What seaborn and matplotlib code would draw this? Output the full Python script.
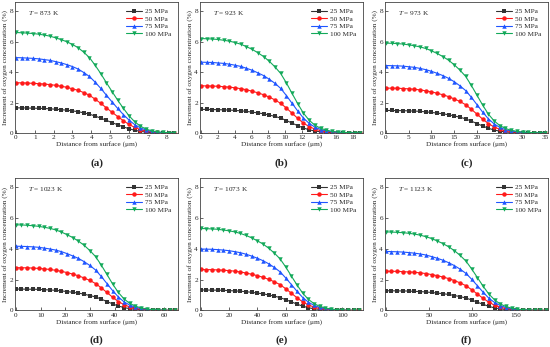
"""
Oxygen concentration increment profiles at six temperatures (four pressures each).
"""

import matplotlib.pyplot as plt
import pandas as pd
import seaborn as sns
from matplotlib.lines import Line2D

OUTPUT_FILE = "out.png"

PRESSURES = ["25 MPa", "50 MPa", "75 MPa", "100 MPa"]
COLORS = ["#333333", "#ff1a1a", "#1f55ff", "#13a95a"]
MARKERS = ["s", "o", "^", "v"]

TEMPERATURES = ["873", "923", "973", "1023", "1073", "1123"]
PANEL_LABELS = ["(a)", "(b)", "(c)", "(d)", "(e)", "(f)"]

# depth from surface (um), one grid per temperature
X_873 = [0, 0.3, 0.6, 0.9, 1.2, 1.5, 1.8, 2.1, 2.4, 2.7, 3.0, 3.3, 3.6, 3.9, 4.2,
         4.5, 4.8, 5.1, 5.4, 5.7, 6.0, 6.3, 6.6, 6.9, 7.2, 7.5, 7.8, 8.1, 8.4]
X_923 = [0, 0.68, 1.35, 2.03, 2.7, 3.38, 4.05, 4.73, 5.4, 6.08, 6.75, 7.43, 8.1, 8.78,
         9.45, 10.13, 10.8, 11.48, 12.15, 12.83, 13.5, 14.18, 14.85, 15.53, 16.2,
         16.88, 17.55, 18.23, 18.9]
X_973 = [0, 1.25, 2.5, 3.75, 5, 6.25, 7.5, 8.75, 10, 11.25, 12.5, 13.75, 15, 16.25,
         17.5, 18.75, 20, 21.25, 22.5, 23.75, 25, 26.25, 27.5, 28.75, 30, 31.25,
         32.5, 33.75, 35]
X_1023 = [0, 2.3, 4.6, 6.9, 9.2, 11.5, 13.8, 16.1, 18.4, 20.7, 23, 25.3, 27.6, 29.9,
          32.2, 34.5, 36.8, 39.1, 41.4, 43.7, 46, 48.3, 50.6, 52.9, 55.2, 57.5,
          59.8, 62.1, 64.4]
X_1073 = [0, 4, 8, 12, 16, 20, 24, 28, 32, 36, 40, 44, 48, 52, 56, 60, 64, 68, 72,
          76, 80, 84, 88, 92, 96, 100, 104, 108, 112]
X_1123 = [0, 6.6, 13.2, 19.8, 26.4, 33, 39.6, 46.2, 52.8, 59.4, 66, 72.6, 79.2, 85.8,
          92.4, 99, 105.6, 112.2, 118.8, 125.4, 132, 138.6, 145.2, 151.8, 158.4,
          165, 171.6, 178.2, 184.8]

# increment of oxygen concentration (%)
Y_873 = [
    [1.65, 1.65, 1.64, 1.63, 1.62, 1.61, 1.59, 1.56, 1.53, 1.50, 1.45, 1.40, 1.32, 1.24, 1.11,
     0.98, 0.83, 0.68, 0.54, 0.40, 0.28, 0.18, 0.11, 0.06, 0.03, 0.02, 0.01, 0.00, 0.00],
    [3.30, 3.29, 3.28, 3.26, 3.24, 3.21, 3.18, 3.13, 3.07, 3.00, 2.90, 2.80, 2.65, 2.48, 2.22,
     1.95, 1.65, 1.36, 1.08, 0.81, 0.56, 0.37, 0.22, 0.13, 0.07, 0.04, 0.02, 0.01, 0.01],
    [4.95, 4.94, 4.92, 4.90, 4.87, 4.82, 4.77, 4.69, 4.60, 4.49, 4.36, 4.20, 3.97, 3.71, 3.34,
     2.93, 2.48, 2.04, 1.61, 1.21, 0.85, 0.55, 0.34, 0.19, 0.10, 0.05, 0.03, 0.01, 0.01],
    [6.60, 6.58, 6.56, 6.53, 6.49, 6.43, 6.36, 6.25, 6.13, 5.99, 5.81, 5.60, 5.30, 4.95, 4.45,
     3.90, 3.30, 2.72, 2.15, 1.62, 1.13, 0.74, 0.45, 0.26, 0.14, 0.07, 0.04, 0.02, 0.01],
]
Y_923 = [
    [1.55, 1.55, 1.54, 1.53, 1.52, 1.51, 1.48, 1.46, 1.42, 1.37, 1.32, 1.26, 1.18, 1.09, 0.98,
     0.82, 0.65, 0.48, 0.33, 0.21, 0.13, 0.08, 0.05, 0.03, 0.02, 0.01, 0.00, 0.00, 0.00],
    [3.10, 3.09, 3.08, 3.07, 3.04, 3.01, 2.97, 2.91, 2.84, 2.74, 2.64, 2.51, 2.36, 2.17, 1.95,
     1.64, 1.30, 0.96, 0.65, 0.42, 0.26, 0.16, 0.09, 0.06, 0.03, 0.02, 0.01, 0.01, 0.00],
    [4.65, 4.64, 4.63, 4.60, 4.57, 4.52, 4.45, 4.37, 4.25, 4.12, 3.95, 3.77, 3.53, 3.26, 2.93,
     2.46, 1.95, 1.44, 0.98, 0.63, 0.39, 0.23, 0.14, 0.08, 0.05, 0.03, 0.01, 0.01, 0.00],
    [6.20, 6.19, 6.17, 6.14, 6.09, 6.03, 5.94, 5.83, 5.67, 5.49, 5.27, 5.02, 4.71, 4.34, 3.91,
     3.29, 2.60, 1.92, 1.30, 0.84, 0.51, 0.31, 0.19, 0.11, 0.06, 0.04, 0.02, 0.01, 0.01],
]
Y_973 = [
    [1.48, 1.48, 1.47, 1.47, 1.45, 1.44, 1.42, 1.39, 1.35, 1.31, 1.26, 1.20, 1.12, 1.04, 0.93,
     0.78, 0.62, 0.46, 0.31, 0.20, 0.12, 0.07, 0.04, 0.03, 0.01, 0.01, 0.00, 0.00, 0.00],
    [2.95, 2.94, 2.94, 2.92, 2.90, 2.87, 2.83, 2.77, 2.70, 2.61, 2.51, 2.39, 2.24, 2.07, 1.86,
     1.56, 1.24, 0.91, 0.62, 0.40, 0.24, 0.15, 0.09, 0.05, 0.03, 0.02, 0.01, 0.01, 0.00],
    [4.43, 4.42, 4.41, 4.39, 4.35, 4.31, 4.24, 4.16, 4.05, 3.92, 3.77, 3.59, 3.37, 3.10, 2.79,
     2.35, 1.86, 1.37, 0.93, 0.60, 0.37, 0.22, 0.13, 0.08, 0.04, 0.03, 0.01, 0.01, 0.00],
    [5.90, 5.89, 5.87, 5.84, 5.79, 5.73, 5.65, 5.55, 5.40, 5.22, 5.02, 4.78, 4.48, 4.13, 3.72,
     3.13, 2.48, 1.83, 1.24, 0.80, 0.49, 0.30, 0.18, 0.11, 0.06, 0.04, 0.02, 0.01, 0.01],
]
Y_1023 = [
    [1.39, 1.39, 1.38, 1.38, 1.37, 1.35, 1.33, 1.31, 1.27, 1.23, 1.18, 1.13, 1.06, 0.97, 0.88,
     0.74, 0.58, 0.43, 0.29, 0.19, 0.12, 0.07, 0.04, 0.03, 0.01, 0.01, 0.00, 0.00, 0.00],
    [2.78, 2.77, 2.77, 2.75, 2.73, 2.70, 2.66, 2.61, 2.54, 2.46, 2.36, 2.25, 2.11, 1.95, 1.75,
     1.47, 1.17, 0.86, 0.58, 0.38, 0.23, 0.14, 0.08, 0.05, 0.03, 0.02, 0.01, 0.01, 0.00],
    [4.17, 4.16, 4.15, 4.13, 4.10, 4.05, 3.99, 3.92, 3.82, 3.69, 3.54, 3.38, 3.17, 2.92, 2.63,
     2.21, 1.75, 1.29, 0.88, 0.56, 0.35, 0.21, 0.13, 0.08, 0.04, 0.03, 0.01, 0.01, 0.00],
    [5.56, 5.55, 5.53, 5.50, 5.46, 5.40, 5.33, 5.23, 5.09, 4.92, 4.73, 4.50, 4.23, 3.89, 3.50,
     2.95, 2.34, 1.72, 1.17, 0.75, 0.46, 0.28, 0.17, 0.10, 0.06, 0.03, 0.02, 0.01, 0.01],
]
Y_1073 = [
    [1.33, 1.33, 1.32, 1.32, 1.31, 1.29, 1.27, 1.25, 1.22, 1.18, 1.13, 1.08, 1.01, 0.93, 0.84,
     0.70, 0.56, 0.41, 0.28, 0.18, 0.11, 0.07, 0.04, 0.02, 0.01, 0.01, 0.00, 0.00, 0.00],
    [2.66, 2.65, 2.65, 2.63, 2.61, 2.59, 2.55, 2.50, 2.43, 2.35, 2.26, 2.15, 2.02, 1.86, 1.68,
     1.41, 1.12, 0.82, 0.56, 0.36, 0.22, 0.13, 0.08, 0.05, 0.03, 0.02, 0.01, 0.01, 0.00],
    [3.99, 3.98, 3.97, 3.95, 3.92, 3.88, 3.82, 3.75, 3.65, 3.53, 3.39, 3.23, 3.03, 2.79, 2.51,
     2.11, 1.68, 1.24, 0.84, 0.54, 0.33, 0.20, 0.12, 0.07, 0.04, 0.02, 0.01, 0.01, 0.00],
    [5.32, 5.31, 5.29, 5.27, 5.22, 5.17, 5.10, 5.00, 4.87, 4.71, 4.52, 4.31, 4.04, 3.72, 3.35,
     2.82, 2.23, 1.65, 1.12, 0.72, 0.44, 0.27, 0.16, 0.10, 0.05, 0.03, 0.02, 0.01, 0.01],
]
Y_1123 = [
    [1.28, 1.28, 1.27, 1.27, 1.26, 1.24, 1.23, 1.20, 1.17, 1.13, 1.09, 1.04, 0.97, 0.90, 0.81,
     0.68, 0.54, 0.40, 0.27, 0.17, 0.11, 0.06, 0.04, 0.02, 0.01, 0.01, 0.00, 0.00, 0.00],
    [2.55, 2.54, 2.54, 2.52, 2.50, 2.48, 2.44, 2.40, 2.33, 2.26, 2.17, 2.07, 1.94, 1.79, 1.61,
     1.35, 1.07, 0.79, 0.54, 0.34, 0.21, 0.13, 0.08, 0.05, 0.03, 0.02, 0.01, 0.01, 0.00],
    [3.83, 3.82, 3.81, 3.79, 3.76, 3.72, 3.67, 3.60, 3.50, 3.39, 3.26, 3.10, 2.91, 2.68, 2.41,
     2.03, 1.61, 1.19, 0.80, 0.52, 0.32, 0.19, 0.11, 0.07, 0.04, 0.02, 0.01, 0.01, 0.00],
    [5.10, 5.09, 5.07, 5.05, 5.01, 4.96, 4.89, 4.79, 4.67, 4.51, 4.34, 4.13, 3.88, 3.57, 3.21,
     2.70, 2.14, 1.58, 1.07, 0.69, 0.42, 0.26, 0.15, 0.09, 0.05, 0.03, 0.02, 0.01, 0.01],
]

X_GRIDS = [X_873, X_923, X_973, X_1023, X_1073, X_1123]
Y_SETS = [Y_873, Y_923, Y_973, Y_1023, Y_1073, Y_1123]
X_LIMITS = [(-0.05, 8.6), (-0.1, 19.2), (-0.2, 35.6), (-0.3, 65.5), (-0.5, 114.5), (-0.8, 187)]
X_TICKS = [range(0, 9, 1), range(0, 19, 2), range(0, 36, 5),
           range(0, 61, 10), range(0, 101, 20), range(0, 151, 50)]

FONT = "Liberation Serif"
SMALL = 5.2


def build_frame(x, ys):
    """Long-form table for one panel."""
    frames = []
    for label, y in zip(PRESSURES, ys):
        frames.append(pd.DataFrame({"x": x, "y": y, "pressure": label}))
    return pd.concat(frames, ignore_index=True)


def draw_panel(ax, idx):
    df = build_frame(X_GRIDS[idx], Y_SETS[idx])
    sns.lineplot(data=df, x="x", y="y", hue="pressure", style="pressure",
                 hue_order=PRESSURES, style_order=PRESSURES,
                 palette=COLORS, markers=MARKERS, dashes=False,
                 estimator=None, sort=False, legend=False, ax=ax,
                 linewidth=0.8, markersize=3.2, markeredgewidth=0)

    ax.set_xlim(*X_LIMITS[idx])
    ax.set_ylim(0, 8.6)
    ax.set_xticks(list(X_TICKS[idx]))
    ax.set_yticks([0, 2, 4, 6, 8])
    ax.tick_params(direction="in", length=2, width=0.5, labelsize=SMALL, pad=1.5)
    for spine in ax.spines.values():
        spine.set_linewidth(0.6)
        spine.set_color("#444444")

    ax.set_xlabel("Distance from surface (\u03bcm)", fontsize=SMALL, labelpad=1)
    ax.set_ylabel("Increment of oxygen concentration (%)", fontsize=SMALL, labelpad=1)

    ax.text(0.08, 0.95, "$\\it{T}$ = " + TEMPERATURES[idx] + " K", transform=ax.transAxes,
            fontsize=SMALL, ha="left", va="top")
    # panel tag sits ~30 px under the frame
    ax.annotate(PANEL_LABELS[idx], xy=(0.5, 0), xycoords="axes fraction",
                xytext=(0, -21.5), textcoords="offset points",
                fontsize=8, fontweight="bold", ha="center", va="center")

    handles = [Line2D([], [], color=c, marker=m, markersize=3.2, markeredgewidth=0,
                      linewidth=0.8) for c, m in zip(COLORS, MARKERS)]
    ax.legend(handles, PRESSURES, loc="upper right", frameon=False, fontsize=SMALL,
              handlelength=2.2, handletextpad=0.4, labelspacing=0.2,
              borderaxespad=0.3, bbox_to_anchor=(0.99, 0.99))


def main():
    sns.set_theme(style="ticks")
    plt.rcParams["font.family"] = [FONT, "DejaVu Serif"]
    plt.rcParams["mathtext.fontset"] = "custom"
    plt.rcParams["mathtext.it"] = FONT + ":italic"
    plt.rcParams["mathtext.rm"] = FONT

    fig = plt.figure(figsize=(5.5, 3.47), dpi=100)
    lefts = [0.0273, 0.3636, 0.70]
    rows = [(0.6167, 0.3775), (0.1052, 0.382)]
    for idx in range(6):
        bottom, height = rows[idx // 3]
        ax = fig.add_axes([lefts[idx % 3], bottom, 0.2964, height])
        draw_panel(ax, idx)

    fig.savefig(OUTPUT_FILE, dpi=100, facecolor="white")
    plt.close(fig)


if __name__ == "__main__":
    main()
